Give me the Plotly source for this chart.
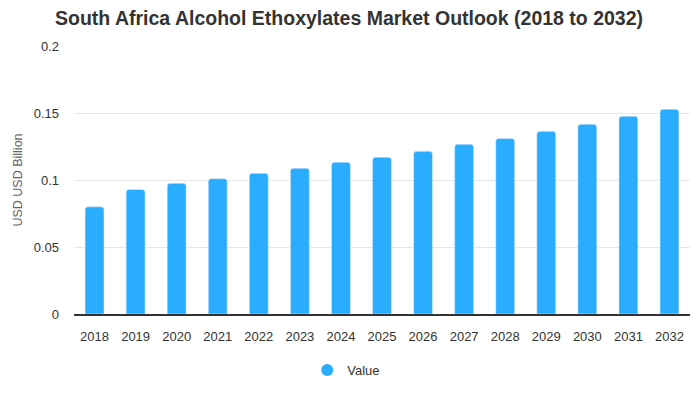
import plotly.graph_objects as go

years = ["2018", "2019", "2020", "2021", "2022", "2023", "2024", "2025",
         "2026", "2027", "2028", "2029", "2030", "2031", "2032"]
values = [0.080, 0.093, 0.0975, 0.101, 0.105, 0.1087, 0.1132, 0.117,
          0.1214, 0.1266, 0.131, 0.1363, 0.1416, 0.1475, 0.1528]
series_name = "Value"
title = "South Africa Alcohol Ethoxylates Market Outlook (2018 to 2032)"
y_title = "USD USD Billion"
y_ticks = [0, 0.05, 0.1, 0.15, 0.2]
y_tick_labels = ["0", "0.05", "0.1", "0.15", "0.2"]

color = "#2aacff"
font = "Liberation Sans, Arial, sans-serif"

fig = go.Figure()
fig.add_trace(go.Bar(x=years, y=values, name=series_name, marker_color=color,
                     showlegend=False))
# legend entry with a circle marker
fig.add_trace(go.Scatter(x=[None], y=[None], mode="markers", name=series_name,
                         marker=dict(symbol="circle", size=12, color=color),
                         showlegend=True))

fig.update_layout(
    width=700, height=400,
    margin=dict(l=74, r=10, t=46, b=86),
    paper_bgcolor="white", plot_bgcolor="white",
    font=dict(family=font, color="#333333", size=13),
    title=dict(text="<b>" + title + "</b>", x=0.4986, xanchor="center",
               y=0.955, yanchor="middle",
               font=dict(family=font, size=19.5, color="#333333")),
    bargap=0.54,
    barcornerradius=3,
    legend=dict(orientation="h", x=0.442, xanchor="center", y=-0.153,
                yanchor="top", font=dict(size=13, color="#333333")),
    xaxis=dict(showline=True, linecolor="#333333", linewidth=2,
               ticks="", ticklabelstandoff=9,
               tickfont=dict(size=13, color="#333333"),
               showgrid=False),
    yaxis=dict(range=[0, 0.2], tickvals=y_ticks, ticktext=y_tick_labels,
               showgrid=True, gridcolor="#e6e6e6", gridwidth=1,
               zeroline=False, ticks="", ticklabelstandoff=14,
               tickfont=dict(size=13, color="#333333"),
               title=dict(text=y_title, standoff=8,
                          font=dict(size=12.5, color="#666666"))),
)

fig.write_html("out.html", config={"displayModeBar": False},
               post_script="document.body.style.margin='0';")
